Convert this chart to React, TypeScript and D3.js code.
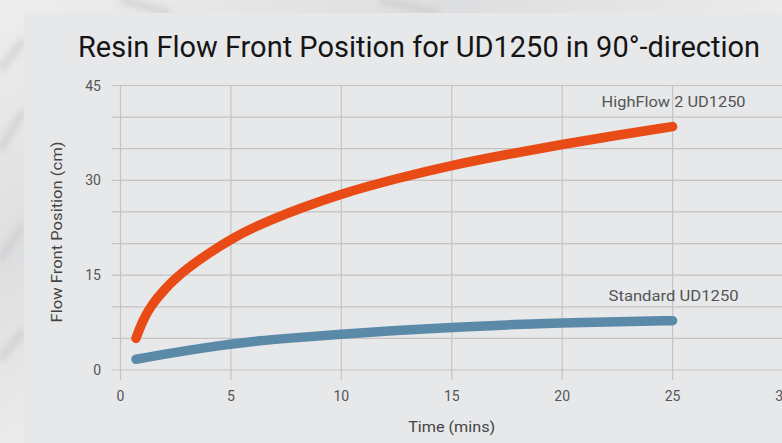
import React from 'react';
import { scaleLinear, line, curveBasis } from 'd3';

// values
const highFlowTime = [0.7, 1.0, 1.4, 2.0, 2.5, 3.0, 4.0, 5.0, 6.0, 7.0, 8.0, 10, 12.5, 15, 17.5, 20, 22.5, 25];
const highFlowPos = [5.0, 7.8, 10.3, 12.8, 14.5, 16.0, 18.5, 20.7, 22.5, 24.0, 25.4, 27.9, 30.3, 32.4, 34.1, 35.7, 37.15, 38.5];
const standardTime = [0.7, 2.5, 3.6, 5, 6.2, 7.5, 10, 12.5, 15, 17.5, 20, 22.5, 25];
const standardPos = [1.7, 2.8, 3.4, 4.1, 4.6, 5.0, 5.65, 6.25, 6.75, 7.15, 7.45, 7.65, 7.8];
const xTicks = [0, 5, 10, 15, 20, 25, 30];
const yTicks = [0, 15, 30, 45];
const yGrid = [0, 5, 10, 15, 20, 25, 30, 35, 40, 45];
const seriesNames = ['HighFlow 2 UD1250', 'Standard UD1250'];

const App = () => {
    let svgWidth = 782;
    let svgHeight = 443;
    let margin = { top: 85.5, left: 120.5, bottom: 370 };
    let font = 'Roboto, "DejaVu Sans", sans-serif';

    let x = scaleLinear().domain([0, 30]).range([margin.left, 783]);
    let y = scaleLinear().domain([0, 45]).range([margin.bottom, margin.top]);

    // basis curve smooths out the small reading errors in the points
    let linefunc = line<[number, number]>().x(d => x(d[0])).y(d => y(d[1])).curve(curveBasis);

    let highFlow: [number, number][] = highFlowTime.map((t, i) => [t, highFlowPos[i]]);
    let standard: [number, number][] = standardTime.map((t, i) => [t, standardPos[i]]);
    let series = [
        { name: seriesNames[0], data: highFlow, color: '#E84B15' },
        { name: seriesNames[1], data: standard, color: '#5B8AA8' }
    ];

    return (
        <svg width={svgWidth} height={svgHeight} style={{ position: 'absolute', left: 0, top: 0 }}>
            <defs>
                <linearGradient id="marble" x1="0" y1="0" x2="1" y2="1">
                    <stop offset="0" stopColor="#eeeeef" />
                    <stop offset="0.3" stopColor="#dddedf" />
                    <stop offset="0.6" stopColor="#f1f1f2" />
                    <stop offset="1" stopColor="#dfe0e1" />
                </linearGradient>
                <filter id="soft"><feGaussianBlur stdDeviation="3" /></filter>
            </defs>
            <rect width={svgWidth} height={svgHeight} fill="url(#marble)" />
            <path d="M0,70 L24,40 M0,150 L24,110 M0,260 L24,225 M0,360 L24,330 M120,0 L170,13 M380,0 L440,13"
                stroke="#c8c9cb" strokeWidth={8} opacity={0.6} filter="url(#soft)" />
            <rect x={24} y={13} width={svgWidth - 24} height={svgHeight - 13} fill="#E6E8EA" />

            <text x={419} y={57} textAnchor="middle" fontFamily={font} fontSize={30} fill="#151515"
                textLength={682} lengthAdjust="spacingAndGlyphs">
                Resin Flow Front Position for UD1250 in 90°-direction
            </text>

            <g stroke="#c5c3c3" strokeWidth={1.2}>
                {yGrid.map(v => <line key={'h' + v} x1={112} x2={svgWidth} y1={y(v)} y2={y(v)} />)}
                {xTicks.map(v => <line key={'v' + v} x1={x(v)} x2={x(v)} y1={y(45)} y2={380} />)}
            </g>

            <g fontFamily={font} fontSize={14} fill="#555">
                {yTicks.map(v => <text key={'yt' + v} x={101} y={y(v)} dy="0.36em" textAnchor="end">{v}</text>)}
                {xTicks.map(v => <text key={'xt' + v} x={x(v)} y={401} textAnchor="middle">{v}</text>)}
            </g>

            <text transform={`translate(61.5,232) rotate(-90)`} textAnchor="middle" fontFamily={font} fontSize={14} fill="#444"
                textLength={181} lengthAdjust="spacingAndGlyphs">Flow Front Position (cm)</text>
            <text x={451.7} y={431.5} textAnchor="middle" fontFamily={font} fontSize={14} fill="#444"
                textLength={87} lengthAdjust="spacingAndGlyphs">Time (mins)</text>

            <g>
                {series.map(s => (
                    <path key={s.name} d={linefunc(s.data)} fill="none" stroke={s.color} strokeWidth={9.5}
                        strokeLinecap="round" strokeLinejoin="round" />
                ))}
            </g>

            <g fontFamily={font} fontSize={14} fill="#555" textAnchor="middle">
                {series.map((s, i) => {
                    let last = s.data[s.data.length - 1];
                    return <text key={'lbl' + s.name} x={x(last[0]) + 1} y={y(last[1]) - 20}
                        textLength={i == 0 ? 144 : 130} lengthAdjust="spacingAndGlyphs">{s.name}</text>;
                })}
            </g>
        </svg>
    );
}

export default App;
